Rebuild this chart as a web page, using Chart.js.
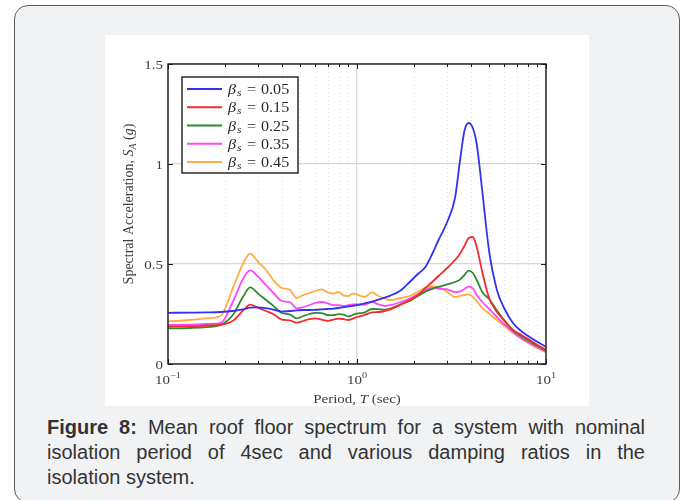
<!DOCTYPE html>
<html>
<head>
<meta charset="utf-8">
<script src="https://cdn.jsdelivr.net/npm/chart.js@4.4.1/dist/chart.umd.min.js"></script>
<style>
  html, body { margin: 0; padding: 0; background: #fff; }
  body { width: 685px; height: 500px; position: relative; overflow: hidden; }
  .kaart {
    position: absolute; left: 14px; top: 5px; width: 666px; height: 498px;
    box-sizing: border-box; border: 1.5px solid #5c5c5c; border-radius: 14px;
    background: #f1f2f4;
  }
  .figuur { position: absolute; left: 105px; top: 35px; width: 484px; height: 371px; background: #fff; }
  .onderschrift {
    position: absolute; left: 47px; top: 415px; width: 598px;
    font-family: "Liberation Sans", Arial, sans-serif; font-size: 20px; line-height: 25px; color: #333;
  }
  .onderschrift div { text-align: justify; text-align-last: justify; white-space: nowrap; }
  .onderschrift div.laatste { text-align-last: left; }
</style>
</head>
<body>
<div class="kaart"></div>
<div class="figuur"><canvas id="spectrum" width="484" height="371"></canvas></div>
<div class="onderschrift">
  <div><b>Figure 8:</b> Mean roof floor spectrum for a system with nominal</div>
  <div>isolation period of 4sec and various damping ratios in the</div>
  <div class="laatste">isolation system.</div>
</div>
<script>
// period (sec) and mean roof floor spectral acceleration (g) per damping ratio
const periods = [0.1, 0.13, 0.16, 0.19, 0.22, 0.25, 0.272, 0.3, 0.33, 0.36,
  0.4, 0.44, 0.48, 0.52, 0.56, 0.6, 0.65, 0.7, 0.75, 0.8,
  0.85, 0.9, 0.95, 1.0, 1.1, 1.2, 1.3, 1.4, 1.5, 1.7,
  1.9, 2.1, 2.3, 2.5, 2.7, 3.0, 3.3, 3.5, 3.7, 3.9,
  4.1, 4.3, 4.6, 5.0, 5.5, 6.0, 6.7, 7.5, 8.5, 10];

const dampingRatios = [0.05, 0.15, 0.25, 0.35, 0.45];

const sa005 = [0.256, 0.257, 0.258, 0.26, 0.265, 0.273, 0.282, 0.283, 0.279, 0.272,
  0.262, 0.265, 0.268, 0.27, 0.27, 0.271, 0.273, 0.275, 0.277, 0.28,
  0.284, 0.288, 0.291, 0.294, 0.303, 0.312, 0.322, 0.332, 0.342, 0.368,
  0.41, 0.45, 0.485, 0.55, 0.62, 0.71, 0.83, 1.01, 1.165, 1.205,
  1.18, 1.10, 0.865, 0.565, 0.37, 0.28, 0.204, 0.16, 0.125, 0.086];

const sa015 = [0.187, 0.189, 0.192, 0.197, 0.215, 0.268, 0.297, 0.281, 0.265, 0.25,
  0.222, 0.218, 0.207, 0.215, 0.224, 0.228, 0.222, 0.216, 0.222, 0.227,
  0.224, 0.22, 0.227, 0.235, 0.246, 0.258, 0.26, 0.265, 0.273, 0.297,
  0.32, 0.345, 0.38, 0.41, 0.44, 0.48, 0.52, 0.55, 0.59, 0.63,
  0.635, 0.585, 0.46, 0.33, 0.26, 0.218, 0.17, 0.143, 0.11, 0.07];

const sa025 = [0.178, 0.18, 0.184, 0.195, 0.245, 0.337, 0.383, 0.352, 0.32, 0.292,
  0.255, 0.248, 0.228, 0.24, 0.25, 0.256, 0.254, 0.245, 0.244, 0.249,
  0.247, 0.238, 0.245, 0.252, 0.258, 0.275, 0.274, 0.272, 0.277, 0.298,
  0.315, 0.34, 0.362, 0.376, 0.386, 0.398, 0.41, 0.422, 0.445, 0.467,
  0.455, 0.42, 0.36, 0.325, 0.268, 0.22, 0.168, 0.135, 0.104, 0.066];

const sa035 = [0.195, 0.197, 0.2, 0.205, 0.31, 0.428, 0.468, 0.437, 0.395, 0.357,
  0.315, 0.31, 0.278, 0.285, 0.295, 0.305, 0.31, 0.303, 0.294, 0.294,
  0.29, 0.294, 0.298, 0.298, 0.297, 0.31, 0.298, 0.29, 0.294, 0.31,
  0.327, 0.348, 0.37, 0.38, 0.377, 0.373, 0.36, 0.362, 0.375, 0.387,
  0.378, 0.345, 0.31, 0.275, 0.235, 0.2, 0.16, 0.125, 0.097, 0.062];

const sa045 = [0.213, 0.22, 0.228, 0.24, 0.378, 0.503, 0.552, 0.51, 0.47, 0.42,
  0.38, 0.372, 0.33, 0.345, 0.355, 0.365, 0.373, 0.358, 0.352, 0.36,
  0.342, 0.34, 0.352, 0.348, 0.335, 0.358, 0.34, 0.327, 0.32, 0.33,
  0.34, 0.36, 0.382, 0.388, 0.385, 0.36, 0.335, 0.34, 0.345, 0.348,
  0.335, 0.315, 0.28, 0.252, 0.22, 0.192, 0.155, 0.122, 0.092, 0.058];

// axis ticks
const xTickValues = [0.1, 0.2, 0.3, 0.4, 0.5, 0.6, 0.7, 0.8, 0.9,
  1, 2, 3, 4, 5, 6, 7, 8, 9, 10];
const decadeValues = [0.1, 1, 10];
const decadeExponents = ['\u22121', '0', '1'];
const yTickValues = [0, 0.5, 1, 1.5];
const yTickLabels = ['0', '0.5', '1', '1.5'];

const serif = '"Liberation Serif", "DejaVu Serif", serif';
const textColor = '#3c3c3c';
const stretch = 1.15;

const isDecade = v => Math.abs(Math.log10(v) - Math.round(Math.log10(v))) < 1e-6;

// draws pieces of text in different fonts next to each other
function drawRuns(ctx, runs, x, y, align, sx) {
    ctx.save();
    let total = 0;
    for (const r of runs) {
        ctx.font = r.font;
        r.w = ctx.measureText(r.text).width;
        total += r.w;
    }
    ctx.translate(x, y);
    ctx.scale(sx || 1, 1);
    let cx = align === 'center' ? -total / 2 : align === 'right' ? -total : 0;
    ctx.textAlign = 'left';
    ctx.textBaseline = 'alphabetic';
    for (const r of runs) {
        ctx.font = r.font;
        ctx.fillStyle = r.color || textColor;
        ctx.fillText(r.text, cx, r.dy || 0);
        cx += r.w;
    }
    ctx.restore();
}

// dotted minor grid, frame with inner ticks, tick labels, titles and legend
const frame = {
    id: 'frame',
    beforeDatasetsDraw(chart) {
        const { ctx, chartArea: a, scales: { x } } = chart;
        ctx.save();
        ctx.strokeStyle = '#e0e0e0';
        ctx.lineWidth = 1;
        ctx.setLineDash([1, 3]);
        xTickValues.forEach(v => {
            if (isDecade(v)) return;
            const px = Math.round(x.getPixelForValue(v)) + 0.5;
            ctx.beginPath();
            ctx.moveTo(px, a.top);
            ctx.lineTo(px, a.bottom);
            ctx.stroke();
        });
        ctx.restore();
    },
    afterDatasetsDraw(chart) {
        const { ctx, chartArea: a, scales: { x, y } } = chart;
        ctx.save();
        ctx.strokeStyle = '#1c1c1c';
        ctx.lineWidth = 1.4;
        ctx.strokeRect(a.left, a.top, a.right - a.left, a.bottom - a.top);

        ctx.lineWidth = 1;
        ctx.beginPath();
        xTickValues.forEach(v => {
            const px = Math.round(x.getPixelForValue(v)) + 0.5;
            const len = isDecade(v) ? 5 : 3;
            ctx.moveTo(px, a.bottom); ctx.lineTo(px, a.bottom - len);
            ctx.moveTo(px, a.top); ctx.lineTo(px, a.top + len);
        });
        yTickValues.forEach(v => {
            const py = Math.round(y.getPixelForValue(v)) + 0.5;
            ctx.moveTo(a.left, py); ctx.lineTo(a.left + 5, py);
            ctx.moveTo(a.right, py); ctx.lineTo(a.right - 5, py);
        });
        ctx.stroke();
        ctx.restore();

        // tick labels
        decadeValues.forEach((v, i) => {
            drawRuns(ctx, [
                { text: '10', font: '13px ' + serif },
                { text: decadeExponents[i], font: '9px ' + serif, dy: -6 }
            ], x.getPixelForValue(v), a.bottom + 19.5, 'center', stretch);
        });
        yTickValues.forEach((v, i) => {
            drawRuns(ctx, [{ text: yTickLabels[i], font: '13px ' + serif }],
                a.left - 5, y.getPixelForValue(v) + 4.5, 'right', stretch);
        });

        // axis titles
        drawRuns(ctx, [
            { text: 'Period, ', font: '13px ' + serif },
            { text: 'T', font: 'italic 13px ' + serif },
            { text: ' (sec)', font: '13px ' + serif }
        ], (a.left + a.right) / 2, a.bottom + 39, 'center', stretch);

        ctx.save();
        ctx.translate(a.left - 35, (a.top + a.bottom) / 2 - 10);
        ctx.rotate(-Math.PI / 2);
        drawRuns(ctx, [
            { text: 'Spectral Acceleration, ', font: '14px ' + serif },
            { text: 'S', font: 'italic 14px ' + serif },
            { text: 'A', font: 'italic 10px ' + serif, dy: 3 },
            { text: ' (', font: '14px ' + serif },
            { text: 'g', font: 'italic 14px ' + serif },
            { text: ')', font: '14px ' + serif }
        ], 0, 0, 'center', 1);
        ctx.restore();

        // legend
        const L = a.left + 14, T = a.top + 13;
        ctx.save();
        ctx.fillStyle = '#fff';
        ctx.fillRect(L, T, 116, 96);
        ctx.strokeStyle = '#1c1c1c';
        ctx.lineWidth = 1.4;
        ctx.strokeRect(L, T, 116, 96);
        chart.data.datasets.forEach((ds, i) => {
            const ry = T + 12 + i * 18.25;
            ctx.strokeStyle = ds.borderColor;
            ctx.lineWidth = 2;
            ctx.beginPath();
            ctx.moveTo(L + 5, ry);
            ctx.lineTo(L + 40, ry);
            ctx.stroke();
            drawRuns(ctx, [{ text: '\u03b2', font: 'italic 14px ' + serif, color: '#2a2a2a' }], L + 46, ry + 5, 'left', stretch);
            drawRuns(ctx, [{ text: 's', font: 'italic 10px ' + serif, color: '#2a2a2a' }], L + 55, ry + 7, 'left', stretch);
            drawRuns(ctx, [{ text: '=', font: '14px ' + serif, color: '#2a2a2a' }], L + 65, ry + 5, 'left', stretch);
            drawRuns(ctx, [{ text: dampingRatios[i].toFixed(2), font: '14px ' + serif, color: '#2a2a2a' }], L + 79, ry + 5, 'left', stretch);
        });
        ctx.restore();
    }
};

const lineColors = ['#3232f2', '#f52b2b', '#2f8a2f', '#ff45ff', '#ffad42'];
const series = [sa005, sa015, sa025, sa035, sa045];

new Chart(document.getElementById('spectrum').getContext('2d'), {
    type: 'line',
    data: {
        datasets: series.map((vals, i) => ({
            label: '\u03b2s = ' + dampingRatios[i].toFixed(2),
            data: periods.map((t, j) => ({ x: t, y: vals[j] })),
            borderColor: lineColors[i],
            borderWidth: 1.8,
            pointRadius: 0,
            cubicInterpolationMode: 'monotone',
            fill: false
        }))
    },
    options: {
        responsive: false,
        animation: false,
        layout: { padding: { top: 29, right: 43, left: 0, bottom: 0 } },
        plugins: { legend: { display: false }, tooltip: { enabled: false } },
        scales: {
            x: {
                type: 'logarithmic',
                min: 0.1,
                max: 10,
                afterBuildTicks: s => { s.ticks = xTickValues.map(v => ({ value: v })); },
                afterFit: s => { s.height = 42; },
                ticks: { display: false },
                grid: {
                    drawTicks: false,
                    color: c => (c.tick && isDecade(c.tick.value)) ? '#d8d8d8' : 'rgba(0,0,0,0)',
                    lineWidth: 1.2
                },
                border: { display: false }
            },
            y: {
                min: 0,
                max: 1.5,
                afterBuildTicks: s => { s.ticks = yTickValues.map(v => ({ value: v })); },
                afterFit: s => { s.width = 63; },
                ticks: { display: false },
                grid: { drawTicks: false, color: '#d8d8d8', lineWidth: 1.2 },
                border: { display: false }
            }
        }
    },
    plugins: [frame]
});
</script>
</body>
</html>
